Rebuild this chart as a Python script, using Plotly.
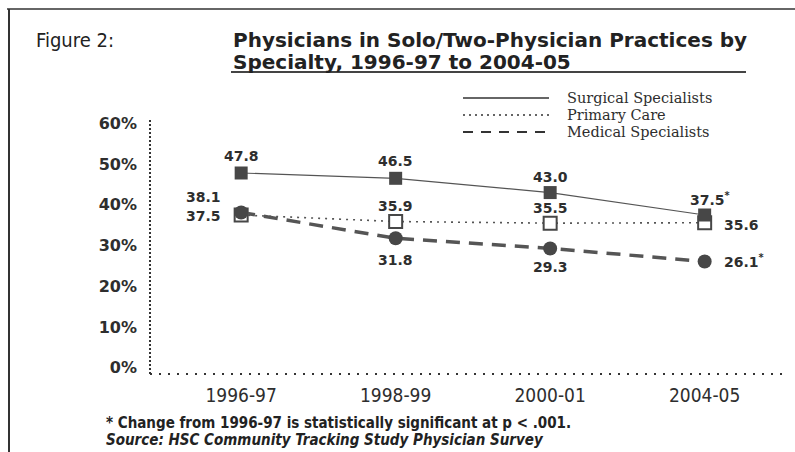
import plotly.graph_objects as go

# data
periods = ["1996-97", "1998-99", "2000-01", "2004-05"]
surgical = [47.8, 46.5, 43.0, 37.5]
primary = [37.5, 35.9, 35.5, 35.6]
medical = [38.1, 31.8, 29.3, 26.1]
significant_surgical = [False, False, False, True]
significant_primary = [False, False, False, False]
significant_medical = [False, False, False, True]
y_ticks = [0, 10, 20, 30, 40, 50, 60]
legend_names = ["Surgical Specialists", "Primary Care", "Medical Specialists"]

W, H = 795, 452
L, R, T, B = 150, 10, 120, 78
PW, PH = W - L - R, H - T - B


def px(x):
    return (x - L) / PW


def py(y):
    return (H - B - y) / PH


def label(v, flag):
    return f"{v:.1f}" + ("<sup>*</sup>" if flag else "")


DARK = "#474747"
LINE = "#555555"
TXT = "#2e2e2e"
COND = "DejaVu Sans Condensed"
lbl_font = dict(family="DejaVu Sans", size=14, color=TXT, weight="bold")

dash_primary = "2px,5px"
dash_medical = "14px,9px"

fig = go.Figure()

fig.add_trace(go.Scatter(
    x=periods, y=primary, mode="lines+markers", showlegend=False,
    line=dict(color=LINE, width=1.6, dash=dash_primary),
    marker=dict(symbol="square", size=13, color="white", line=dict(color=DARK, width=2)),
))
fig.add_trace(go.Scatter(
    x=periods, y=medical, mode="lines+markers", showlegend=False,
    line=dict(color=LINE, width=3.5, dash=dash_medical),
    marker=dict(symbol="circle", size=14, color=DARK),
))
fig.add_trace(go.Scatter(
    x=periods, y=surgical, mode="lines+markers", showlegend=False,
    line=dict(color=LINE, width=1.2),
    marker=dict(symbol="square", size=13, color=DARK),
))

# value labels: (xanchor, xshift, yshift) per point
placement = {
    "surgical": [("center", 0, 17), ("center", 0, 17), ("center", 0, 16), ("center", 5, 16)],
    "primary": [("right", -18, -1), ("center", 0, 16), ("center", 0, 15), ("left", 17, -2)],
    "medical": [("right", -18, 16), ("center", 0, -22), ("center", 0, -19), ("left", 17, 0)],
}
series = {
    "surgical": (surgical, significant_surgical),
    "primary": (primary, significant_primary),
    "medical": (medical, significant_medical),
}

annotations = []
for key, (vals, flags) in series.items():
    for p, v, f, (xa, xs, ys) in zip(periods, vals, flags, placement[key]):
        annotations.append(dict(
            x=p, y=v, text=label(v, f), showarrow=False,
            xanchor=xa, yanchor="middle", xshift=xs, yshift=ys, font=lbl_font,
        ))

# legend drawn by hand to keep the tight row spacing
legend_shapes = []
for i, (name, dash, width) in enumerate(zip(legend_names,
                                            ["solid", "2px,4px", "10px,8px"],
                                            [1.3, 1.6, 2])):
    yy = 98 + 17 * i
    legend_shapes.append(dict(type="line", xref="paper", yref="paper",
                              x0=px(463), x1=px(549), y0=py(yy), y1=py(yy),
                              line=dict(color="#333", width=width, dash=dash)))
    annotations.append(dict(text=name, xref="paper", yref="paper", x=px(565), y=py(yy),
                            xanchor="left", yanchor="middle", showarrow=False,
                            font=dict(family="DejaVu Serif", size=14.5, color=TXT)))

annotations += [
    dict(text="Physicians in Solo/Two-Physician Practices by", xref="paper", yref="paper",
         x=px(231), y=py(40), xanchor="left", yanchor="middle", showarrow=False,
         font=dict(family="DejaVu Sans", size=20, color="#222", weight="bold")),
    dict(text="Specialty, 1996-97 to 2004-05", xref="paper", yref="paper",
         x=px(231), y=py(62), xanchor="left", yanchor="middle", showarrow=False,
         font=dict(family="DejaVu Sans", size=20, color="#222", weight="bold")),
    dict(text="Figure 2:", xref="paper", yref="paper", x=px(34), y=py(40),
         xanchor="left", yanchor="middle", showarrow=False,
         font=dict(family=COND, size=20, color="#222")),
    dict(text="* Change from 1996-97 is statistically significant at p < .001.",
         xref="paper", yref="paper", x=px(104), y=py(423),
         xanchor="left", yanchor="middle", showarrow=False,
         font=dict(family=COND, size=15, color="#222", weight="bold")),
    dict(text="<i>Source: HSC Community Tracking Study Physician Survey</i>",
         xref="paper", yref="paper", x=px(104), y=py(440),
         xanchor="left", yanchor="middle", showarrow=False,
         font=dict(family=COND, size=15, color="#222", weight="bold")),
]

fig.update_layout(
    width=W, height=H,
    margin=dict(l=L, r=R, t=T, b=B),
    paper_bgcolor="white", plot_bgcolor="white",
    showlegend=False,
    xaxis=dict(
        type="category", range=[-0.59, 3.52], showgrid=False, zeroline=False,
        showline=False, ticks="", ticklabelstandoff=8,
        tickfont=dict(family=COND, size=19, color=TXT),
    ),
    yaxis=dict(
        range=[-1.5, 60.8], tickvals=y_ticks, ticktext=[f"{v}%" for v in y_ticks],
        showgrid=False, zeroline=False, showline=False, ticks="", ticklabelstandoff=12,
        tickfont=dict(family="DejaVu Sans", size=16, color=TXT, weight="bold"),
    ),
    shapes=[
        # dotted axes
        dict(type="line", xref="paper", yref="paper", x0=0, x1=0, y0=0, y1=1,
             line=dict(color="#333", width=2, dash="2px,2px")),
        dict(type="line", xref="paper", yref="paper", x0=0, x1=1, y0=0, y1=0,
             line=dict(color="#333", width=2, dash="2px,7px")),
        # title underline
        dict(type="line", xref="paper", yref="paper", x0=px(231), x1=px(746),
             y0=py(72), y1=py(72), line=dict(color="#444", width=2)),
        # frame
        dict(type="line", xref="paper", yref="paper", x0=px(7), x1=px(795),
             y0=py(9), y1=py(9), line=dict(color="#666", width=2)),
        dict(type="line", xref="paper", yref="paper", x0=px(9), x1=px(9),
             y0=py(9), y1=py(452), line=dict(color="#333", width=2)),
    ] + legend_shapes,
    annotations=annotations,
)

fig.write_html("out.html", config={"displayModeBar": False},
               post_script="document.body.style.margin='0';")
